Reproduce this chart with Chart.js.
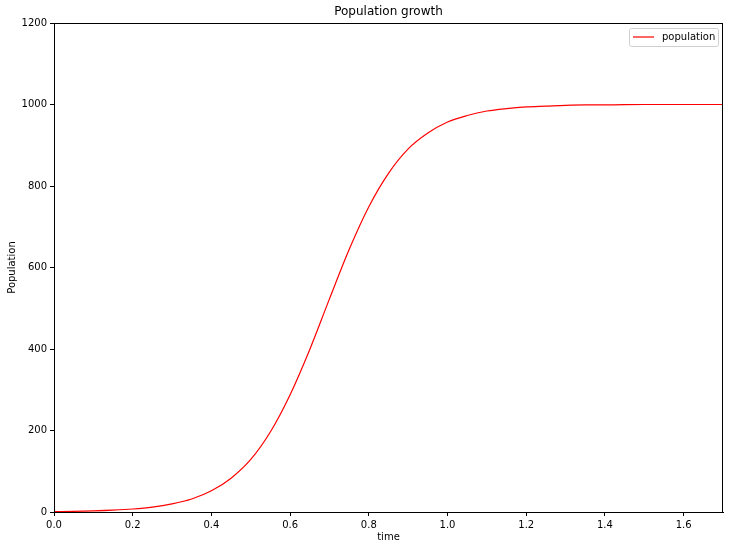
<!DOCTYPE html>
<html>
<head>
<meta charset="utf-8">
<script src="https://cdn.jsdelivr.net/npm/chart.js@4/dist/chart.umd.min.js"></script>
<style>
  body { margin: 0; background: #fff; }
  #wrap { width: 734px; height: 550px; }
</style>
</head>
<body>
<div id="wrap"><canvas id="grafico" width="734" height="550"></canvas></div>
<script>
// valores
let tempos = [0, 0.05, 0.1, 0.15, 0.2, 0.25, 0.3, 0.35, 0.4, 0.45, 0.5, 0.55, 0.6, 0.65, 0.7,
    0.75, 0.8, 0.85, 0.9, 0.95, 1.0, 1.05, 1.1, 1.15, 1.2, 1.25, 1.3, 1.35, 1.4, 1.5, 1.6, 1.7];
let populacao = [1, 1.6, 2.7, 4.5, 7.3, 12, 20, 32, 52, 83, 129, 197, 288, 399, 523,
    644, 749, 831, 891, 930, 957, 973, 984, 990, 994, 996, 998, 999, 999, 1000, 1000, 1000];
let ticksX = [0, 0.2, 0.4, 0.6, 0.8, 1.0, 1.2, 1.4, 1.6];
let ticksY = [0, 200, 400, 600, 800, 1000, 1200];

const fonte = "DejaVu Sans";
Chart.defaults.font.family = fonte;
Chart.defaults.font.size = 10;
Chart.defaults.color = "#000";

// moldura, título, rótulos dos eixos e legenda no estilo matplotlib
const estilo = {
    id: "estilo",
    afterDraw(chart) {
        let ctx = chart.ctx;
        let a = chart.chartArea;
        ctx.save();
        ctx.strokeStyle = "#000";
        ctx.lineWidth = 1;
        ctx.strokeRect(a.left + 0.5, a.top + 0.5, a.right - a.left - 1, a.bottom - a.top);

        ctx.fillStyle = "#000";
        ctx.textAlign = "center";
        ctx.textBaseline = "middle";
        ctx.font = `12px "${fonte}"`;
        ctx.fillText("Population growth", (a.left + a.right) / 2, 12);

        ctx.font = `10px "${fonte}"`;
        ctx.fillText("time", (a.left + a.right) / 2, 537);
        ctx.save();
        ctx.translate(12, (a.top + a.bottom) / 2);
        ctx.rotate(-Math.PI / 2);
        ctx.fillText("Population", 0, 0);
        ctx.restore();

        // caixa da legenda
        ctx.fillStyle = "rgba(255,255,255,0.8)";
        ctx.strokeStyle = "#d0d0d0";
        ctx.beginPath();
        ctx.roundRect(629.5, 28.5, 89, 18, 2);
        ctx.fill();
        ctx.stroke();
        ctx.strokeStyle = "red";
        ctx.lineWidth = 1.2;
        ctx.beginPath();
        ctx.moveTo(633, 37);
        ctx.lineTo(654, 37);
        ctx.stroke();
        ctx.fillStyle = "#000";
        ctx.textAlign = "left";
        ctx.fillText("population", 662, 37);
        ctx.restore();
    }
};

new Chart(document.getElementById("grafico"), {
    type: "line",
    data: {
        datasets: [{
            label: "population",
            data: tempos.map((t, i) => ({ x: t, y: populacao[i] })),
            borderColor: "red",
            borderWidth: 1.2,
            pointRadius: 0,
            fill: false,
            cubicInterpolationMode: "monotone"
        }]
    },
    options: {
        responsive: false,
        animation: false,
        layout: { padding: { top: 23, right: 11, left: 0, bottom: 0 } },
        plugins: {
            legend: { display: false },
            title: { display: false },
            tooltip: { enabled: false }
        },
        scales: {
            x: {
                type: "linear",
                min: 0,
                max: 1.7,
                afterBuildTicks: escala => { escala.ticks = ticksX.map(v => ({ value: v })); },
                afterFit: escala => { escala.height = 38; },
                grid: { drawOnChartArea: false, tickLength: 4, color: "#000" },
                border: { color: "#000" },
                ticks: { padding: 3, maxRotation: 0, callback: v => v.toFixed(1) }
            },
            y: {
                min: 0,
                max: 1200,
                afterBuildTicks: escala => { escala.ticks = ticksY.map(v => ({ value: v })); },
                afterFit: escala => { escala.width = 54; },
                grid: { drawOnChartArea: false, tickLength: 4, color: "#000" },
                border: { color: "#000" },
                ticks: { padding: 3, callback: v => String(v) }
            }
        }
    },
    plugins: [estilo]
});
</script>
</body>
</html>
